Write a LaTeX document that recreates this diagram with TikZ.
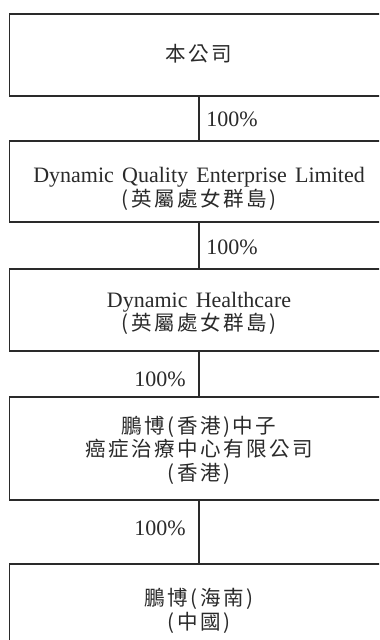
\documentclass[tikz,border=0pt]{standalone}
\usepackage{fontspec}
\setmainfont{Liberation Serif}[WordSpace={1.5,1,1}]
\newfontfamily\cjk[Scale=0.933,LetterSpace=12]{Noto Sans CJK TC}
\newcommand\zh[1]{{\cjk #1}}
\newcommand\gp{\kern2pt}
\definecolor{ink}{HTML}{2A2A2A}
\tikzset{
  x=0.75pt, y=-0.75pt,
  entity/.style={draw=ink, line width=0.9pt, rectangle, minimum width=284.25pt, inner sep=0pt},
  txt/.style={anchor=base, text=ink, inner sep=0pt, font=\fontsize{16.5}{18}\selectfont},
  link/.style={draw=ink, line width=0.9pt},
  pct/.style={text=ink, inner sep=0pt, font=\fontsize{16.5}{18}\selectfont}
}
\begin{document}
\begin{tikzpicture}
\clip (0,0) rectangle (379,640);
\fill[white] (0,0) rectangle (379,640);
% boxes
\node[entity, minimum height=61.5pt] (b1) at (199,55) {};
\node[entity, minimum height=60.75pt] (b2) at (199,181.5) {};
\node[entity, minimum height=61.5pt] (b3) at (199,310) {};
\node[entity, minimum height=77.25pt] (b4) at (199,448.5) {};
\node[entity, minimum height=69pt] (b5) at (199,610) {};
% texts
\node[txt] (t1) at (199,61.5) {\zh{本公司}};
\node[txt] (t2a) at (199,182) {Dynamic Quality Enterprise Limited};
\node[txt] (t2b) at (199,206) {\zh{(英屬處女群島)}};
\node[txt] (t3a) at (199,307) {Dynamic Healthcare};
\node[txt] (t3b) at (199,330) {\zh{(英屬處女群島)}};
\node[txt] (t4a) at (199,433) {\zh{鵬博\gp(香港)\gp 中子}};
\node[txt] (t4b) at (199,456) {\zh{癌症治療中心有限公司}};
\node[txt] (t4c) at (199,480) {\zh{(\gp 香港\gp)}};
\node[txt] (t5a) at (199,605) {\zh{鵬博\gp(海南)}};
\node[txt] (t5b) at (199,629) {\zh{(\gp 中國\gp)}};
% connectors
\draw[link] (b1.south) -- (b2.north);
\draw[link] (b2.south) -- (b3.north);
\draw[link] (b3.south) -- (b4.north);
\draw[link] (b4.south) -- (b5.north);
% percentages
\node[pct, anchor=base west] (p1) at (206,126) {100\%};
\node[pct, anchor=base west] (p2) at (206,254.5) {100\%};
\node[pct, anchor=base east] (p3) at (186,386.5) {100\%};
\node[pct, anchor=base east] (p4) at (186,535.5) {100\%};
\end{tikzpicture}
\end{document}
